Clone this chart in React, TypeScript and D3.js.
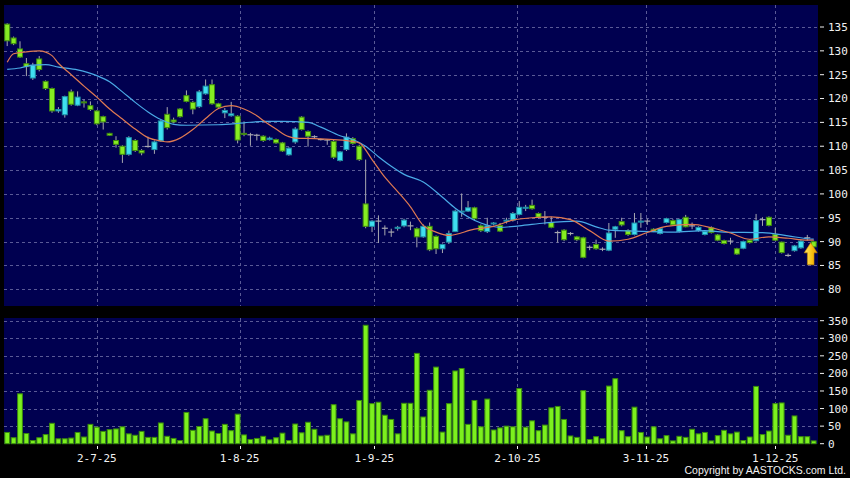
import React from 'react';
import * as d3 from 'd3';

const W = 850;
const H = 478;

// OHLC per trading day (index 0..126)
const opens = [135.6,132.7,130.4,127.3,124.3,128.3,123.6,122.1,117.4,116.6,121.4,118.6,119.3,118.5,117.4,116.2,112.7,111.2,110.0,108.3,111.2,109.1,109.9,109.3,111.1,116.7,115.5,117.8,120.6,119.2,118.3,121.0,122.9,118.9,117.0,116.4,116.3,112.7,112.4,112.3,112.1,111.4,111.4,110.7,108.2,110.9,116.1,113.1,112.0,111.4,111.3,111.0,107.0,109.3,111.6,110.0,97.9,93.2,94.2,92.7,92.0,92.8,93.3,93.3,92.7,91.0,93.2,91.1,88.5,89.9,92.1,96.2,96.4,97.1,93.3,92.1,93.7,93.4,94.3,94.5,95.7,97.0,97.6,95.9,95.1,94.0,91.8,92.4,91.7,91.0,90.8,88.8,89.4,88.4,88.2,92.6,94.2,92.3,91.5,94.1,94.3,92.6,91.7,94.0,94.4,92.1,95.1,93.3,92.3,91.5,92.9,91.4,90.2,90.1,88.5,88.6,90.3,90.2,94.6,95.1,91.5,89.9,87.1,88.1,88.7,90.8,90.0];
const highs = [135.8,133.0,132.0,128.5,127.5,128.9,123.8,122.3,118.2,120.6,121.9,121.5,119.8,119.4,117.6,116.4,112.8,112.1,110.2,112.1,111.5,109.4,112.0,111.2,115.5,118.2,116.0,118.0,121.7,119.5,121.8,124.0,124.0,119.1,118.0,119.3,116.5,115.2,112.8,112.6,112.3,112.0,111.6,110.9,109.8,114.0,116.3,113.3,112.3,111.6,111.5,111.4,109.0,112.7,111.9,110.3,107.2,94.5,95.5,93.4,92.7,93.3,94.8,94.2,93.0,93.6,94.0,91.3,89.6,92.3,96.7,100.1,98.5,97.3,93.6,95.0,94.1,93.9,95.0,96.2,98.5,97.7,98.8,96.1,96.4,95.2,92.3,92.6,92.0,91.2,91.0,89.2,90.4,88.8,93.9,93.3,95.0,92.6,96.0,96.0,94.8,92.8,92.9,95.0,94.7,94.8,95.6,94.0,93.2,92.3,93.2,91.6,90.4,90.8,88.7,90.2,90.5,95.8,95.1,95.3,92.9,90.0,87.5,89.3,90.3,91.4,90.2];
const lows = [131.0,131.2,128.5,124.7,123.9,125.7,121.8,117.0,117.0,116.0,118.5,118.4,118.1,117.4,114.4,113.5,112.2,109.7,106.5,108.0,108.8,108.1,109.7,108.4,110.9,113.5,114.8,116.0,119.2,116.7,118.0,120.8,118.7,118.0,115.9,116.2,110.6,112.1,110.1,111.2,110.9,111.2,110.5,108.8,108.0,110.5,113.3,109.9,111.6,111.2,110.3,107.3,106.8,109.0,110.3,106.9,92.8,92.0,89.7,91.3,91.0,92.3,93.0,92.4,88.8,90.8,88.0,87.4,87.6,89.5,92.0,95.2,96.2,94.4,92.0,91.8,93.4,92.0,93.8,94.2,95.5,96.4,96.7,94.9,93.6,92.8,89.8,90.1,91.3,90.1,86.5,88.2,88.3,88.0,88.0,90.8,93.2,91.2,91.3,92.9,93.5,92.0,91.5,93.8,93.3,91.9,93.0,92.6,92.1,91.3,91.7,90.1,89.4,89.4,87.2,88.4,89.6,90.0,93.3,93.2,90.1,87.5,86.8,87.9,88.5,90.2,88.7];
const closes = [132.1,131.5,128.7,126.7,127.0,126.1,122.1,117.4,117.7,120.4,118.8,120.3,119.1,117.7,114.7,115.1,112.3,110.4,108.3,111.8,109.1,108.6,109.95,110.9,115.3,113.9,115.1,116.2,119.4,117.8,121.4,122.6,118.9,118.2,117.5,116.8,111.3,112.5,112.3,112.3,111.2,111.7,110.7,109.0,109.6,113.6,113.5,112.1,111.9,111.4,111.3,107.7,108.8,111.9,110.6,107.2,93.2,94.3,94.3,92.8,91.9,93.0,94.5,93.2,91.0,93.2,88.3,88.5,89.4,91.7,96.4,96.4,97.1,94.8,92.3,93.3,93.9,92.2,94.5,95.9,97.2,97.2,96.9,95.1,95.0,93.0,91.9,90.4,91.7,90.4,86.7,88.8,88.5,88.4,91.8,93.1,93.5,91.5,93.9,94.3,94.3,92.1,92.7,94.8,93.5,94.6,93.1,93.3,93.0,92.1,91.9,90.3,89.6,90.1,87.4,90.0,89.8,94.4,94.6,93.4,90.3,87.7,87.1,89.1,90.1,90.8,88.9];
const volumes = [32,17,142,29,9,17,26,58,14,14,16,32,19,55,47,35,40,42,48,28,24,35,18,18,59,21,15,9,89,38,49,71,36,29,55,37,84,25,12,15,21,11,17,30,9,56,31,61,41,22,24,111,71,62,28,123,337,114,118,81,69,28,115,115,257,76,152,218,33,114,207,214,55,123,48,127,39,45,50,48,157,47,65,37,53,102,106,69,22,18,151,12,20,14,164,185,37,20,104,32,19,48,14,23,8,21,18,41,28,32,8,23,38,28,33,9,19,163,26,36,114,116,24,79,20,20,8];

// Moving averages (bar index, value)
const ma10Idx = [0,1,3,5,7,8,10,12,14,16,18,20,22,24,25,27,29,31,33,35,37,39,40,42,44,45,48,51,54,55,57,59,61,63,65,67,69,73,76,79,82,85,88,91,94,97,100,103,107,110,113,116,119,122,125,126];
const ma10Val = [127.6,129.4,129.8,130.0,129.0,127.4,125.0,122.6,120.3,117.8,115.7,113.6,111.8,111.1,110.9,111.7,113.5,115.8,117.9,118.5,117.8,116.4,115.4,113.6,112.0,111.7,111.6,111.4,111.0,110.7,107.2,103.5,100.5,97.3,93.4,92.0,91.3,92.6,93.2,94.5,95.0,95.2,94.6,92.3,90.1,90.5,91.9,93.2,93.6,92.9,91.8,90.5,91.0,90.7,90.3,90.3];
const ma20Idx = [0,2,4,6,8,11,14,16,18,20,22,24,26,28,33,37,40,43,47,49,52,54,56,58,60,62,65,68,70,74,77,80,84,89,92,94,98,104,109,112,118,122,125,126];
const ma20Val = [126.1,126.4,127.0,127.1,126.6,126.0,124.8,123.5,121.4,119.2,117.2,115.6,114.6,114.4,114.5,114.9,115.2,115.2,115.0,114.0,112.2,111.4,110.0,107.8,105.8,104.1,102.5,99.3,97.0,93.9,93.0,93.3,93.9,94.3,93.1,92.4,92.2,92.0,92.3,92.0,91.9,91.2,90.6,90.5];

const priceTicks = [80, 85, 90, 95, 100, 105, 110, 115, 120, 125, 130, 135];
const volTicks = [0, 50, 100, 150, 200, 250, 300, 350];
const dateLabels = ['2-7-25', '1-8-25', '1-9-25', '2-10-25', '3-11-25', '1-12-25'];
const datePos = [14, 36.3, 57.35, 79.7, 99.8, 120];

const BG = '#000050';
const GRID = '#5a5a96';
const UP_FILL = '#3fdff0';
const UP_STROKE = '#1f8fa6';
const DN_FILL = '#86ec22';
const DN_STROKE = '#3f8a10';
const WICK = '#a8a8b0';
const VOL_FILL = '#7cf01e';
const VOL_STROKE = '#3a8c0c';
const MA10_COLOR = '#e07a52';
const MA20_COLOR = '#4aaae6';
const TXT = '#f2f2f2';
const MONO = '"DejaVu Sans Mono", monospace';

export default function App() {
  const n = closes.length;
  const main = { x0: 4, x1: 818, y0: 5, y1: 306 };
  const vol = { x0: 4, x1: 818, y0: 318, y1: 444 };

  const x = d3.scaleLinear().domain([0, n - 1]).range([7.2, 813.7]);
  const yP = d3.scaleLinear().domain([80, 135]).range([289.3, 27]);
  const yV = d3.scaleLinear().domain([0, 350]).range([443.7, 320.7]);

  const lineGen = d3
    .line<[number, number]>()
    .x((d) => x(d[0]))
    .y((d) => yP(d[1]))
    .curve(d3.curveMonotoneX);

  const ma10Path = lineGen(ma10Idx.map((d, i) => [d, ma10Val[i]] as [number, number])) || '';
  const ma20Path = lineGen(ma20Idx.map((d, i) => [d, ma20Val[i]] as [number, number])) || '';

  const bodyHalf = 2.5;
  const volHalf = 2.4;

  const last = n - 1;
  const ax = x(last) - 3;
  const ay = yP(closes[last]) - 4;
  const arrowPath = `M${ax},${ay} L${ax + 6.5},${ay + 10} L${ax + 3.3},${ay + 10} L${ax + 3.3},${ay + 22} L${ax - 3.3},${ay + 22} L${ax - 3.3},${ay + 10} L${ax - 6.5},${ay + 10} Z`;

  return (
    <svg
      width={W}
      height={H}
      style={{ position: 'absolute', left: 0, top: 0, display: 'block', background: '#000' }}
    >
      <defs>
        <clipPath id="mainClip">
          <rect x={main.x0} y={main.y0} width={main.x1 - main.x0} height={main.y1 - main.y0} />
        </clipPath>
        <linearGradient id="arrowGrad" x1="0" y1="0" x2="1" y2="0">
          <stop offset="0%" stopColor="#ffe96a" />
          <stop offset="60%" stopColor="#f8c010" />
          <stop offset="100%" stopColor="#e89a00" />
        </linearGradient>
      </defs>
      <rect x={0} y={0} width={W} height={H} fill="#000" />

      <rect x={main.x0} y={main.y0} width={main.x1 - main.x0} height={main.y1 - main.y0} fill={BG} />
      <rect x={vol.x0} y={vol.y0} width={vol.x1 - vol.x0} height={vol.y1 - vol.y0} fill={BG} />

      {priceTicks.map((t) => (
        <line
          key={'pg' + t}
          x1={main.x0}
          x2={main.x1}
          y1={Math.round(yP(t)) + 0.5}
          y2={Math.round(yP(t)) + 0.5}
          stroke={GRID}
          strokeWidth={1}
          strokeDasharray="3,3"
        />
      ))}
      {volTicks
        .filter((t) => t > 0)
        .map((t) => (
          <line
            key={'vg' + t}
            x1={vol.x0}
            x2={vol.x1}
            y1={Math.round(yV(t)) + 0.5}
            y2={Math.round(yV(t)) + 0.5}
            stroke={GRID}
            strokeWidth={1}
            strokeDasharray="3,3"
          />
        ))}
      {datePos.map((p, i) => (
        <g key={'vgx' + i}>
          <line
            x1={Math.round(x(p)) + 0.5}
            x2={Math.round(x(p)) + 0.5}
            y1={main.y0}
            y2={main.y1}
            stroke={GRID}
            strokeDasharray="3,3"
          />
          <line
            x1={Math.round(x(p)) + 0.5}
            x2={Math.round(x(p)) + 0.5}
            y1={vol.y0}
            y2={vol.y1}
            stroke={GRID}
            strokeDasharray="3,3"
          />
        </g>
      ))}

      <g clipPath="url(#mainClip)">
        {closes.map((c, i) => {
          const o = opens[i];
          const cx = x(i);
          const up = c >= o;
          const doji = Math.abs(c - o) < 0.12;
          const top = yP(Math.max(o, c));
          const bot = yP(Math.min(o, c));
          return (
            <g key={'c' + i}>
              <line x1={cx} x2={cx} y1={yP(highs[i])} y2={yP(lows[i])} stroke={WICK} strokeWidth={1} />
              {doji ? (
                <line x1={cx - 3} x2={cx + 3} y1={top} y2={top} stroke={WICK} strokeWidth={1.2} />
              ) : (
                <rect
                  x={cx - bodyHalf}
                  y={top}
                  width={bodyHalf * 2}
                  height={Math.max(1, bot - top)}
                  fill={up ? UP_FILL : DN_FILL}
                  stroke={up ? UP_STROKE : DN_STROKE}
                  strokeWidth={1}
                />
              )}
            </g>
          );
        })}
        <path d={ma20Path} fill="none" stroke={MA20_COLOR} strokeWidth={1.2} />
        <path d={ma10Path} fill="none" stroke={MA10_COLOR} strokeWidth={1.2} />
        <path d={arrowPath} fill="url(#arrowGrad)" stroke="#c88a00" strokeWidth={0.6} />
      </g>

      {volumes.map((v, i) => (
        <rect
          key={'v' + i}
          x={x(i) - volHalf}
          y={yV(v)}
          width={volHalf * 2}
          height={Math.max(0.5, yV(0) - yV(v))}
          fill={VOL_FILL}
          stroke={VOL_STROKE}
          strokeWidth={1}
        />
      ))}

      {priceTicks.map((t) => (
        <g key={'pa' + t}>
          <line x1={820} x2={824} y1={yP(t)} y2={yP(t)} stroke={TXT} strokeWidth={1} />
          <text x={828} y={yP(t)} dy="0.36em" fill={TXT} fontSize={11} fontFamily={MONO}>
            {t}
          </text>
        </g>
      ))}
      {volTicks.map((t) => (
        <g key={'va' + t}>
          <line x1={820} x2={824} y1={yV(t)} y2={yV(t)} stroke={TXT} strokeWidth={1} />
          <text x={828} y={yV(t)} dy="0.36em" fill={TXT} fontSize={11} fontFamily={MONO}>
            {t}
          </text>
        </g>
      ))}
      {datePos.map((p, i) => (
        <g key={'da' + i}>
          <line
            x1={Math.round(x(p)) + 0.5}
            x2={Math.round(x(p)) + 0.5}
            y1={446}
            y2={449}
            stroke={TXT}
            strokeWidth={1}
          />
          <text x={x(p)} y={462} textAnchor="middle" fill={TXT} fontSize={11} fontFamily={MONO}>
            {dateLabels[i]}
          </text>
        </g>
      ))}

      <text
        x={846}
        y={474}
        textAnchor="end"
        fill={TXT}
        fontSize={10.5}
        fontFamily='"Liberation Sans", Arial, sans-serif'
      >
        Copyright by AASTOCKS.com Ltd.
      </text>
    </svg>
  );
}
